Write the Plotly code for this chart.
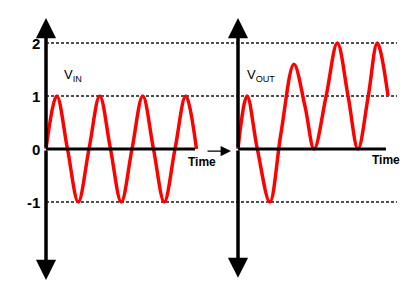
import plotly.graph_objects as go

# ---- data (time in periods, voltage in units) ----
vin_t = [0, 0.25, 0.5, 0.75, 1.0, 1.25, 1.5, 1.75, 2.0, 2.25, 2.5, 2.75, 3.0, 3.25, 3.5]
vin_v = [0, 1, 0, -1, 0, 1, 0, -1, 0, 1, 0, -1, 0, 1, 0]

vout_t = [0, 0.21, 0.45, 0.74, 1.0, 1.3, 1.56, 1.77, 2.05, 2.31, 2.56, 2.79, 3.03, 3.24, 3.49]
vout_v = [0, 1, 0, -1, 0.3, 1.6, 0.8, 0, 1.0, 2, 1.0, 0, 1.0, 2, 1.0]

level_vals = [2, 1, -1]
tick_vals = [2, 1, 0, -1]
tick_text = ["2", "1", "0", "-1"]

W, H = 417, 300
px_per_unit_y = 53.0
y0_px = 149.0
px_per_period = 43.0
left_origin_px = 46.0
right_origin_px = 238.0

yr = [(y0_px - H) / px_per_unit_y, y0_px / px_per_unit_y]
xr1 = [-left_origin_px / px_per_period, (W - left_origin_px) / px_per_period]
xr2 = [-right_origin_px / px_per_period, (W - right_origin_px) / px_per_period]

fig = go.Figure()

red = "#ff0000"
fig.add_trace(go.Scatter(x=vin_t, y=vin_v, mode="lines", xaxis="x", yaxis="y",
                         line=dict(color=red, width=3.5, shape="spline", smoothing=1.0),
                         hoverinfo="skip", showlegend=False))
fig.add_trace(go.Scatter(x=vout_t, y=vout_v, mode="lines", xaxis="x2", yaxis="y",
                         line=dict(color=red, width=3.5, shape="spline", smoothing=1.0),
                         hoverinfo="skip", showlegend=False))

shapes = []
# dashed reference levels
for lv in level_vals:
    shapes.append(dict(type="line", xref="x", yref="y", x0=0, x1=(397 - left_origin_px) / px_per_period,
                       y0=lv, y1=lv, line=dict(color="#505050", width=1.8, dash="3px,2px"), layer="below"))
# horizontal time axes
shapes.append(dict(type="line", xref="x", yref="y", x0=0, x1=3.465, y0=0, y1=0,
                   line=dict(color="black", width=3)))
shapes.append(dict(type="line", xref="x2", yref="y", x0=0, x1=3.44, y0=0, y1=0,
                   line=dict(color="black", width=3)))
fig.update_layout(shapes=shapes)

ann = []
# vertical axes with arrowheads on both ends
for xa, top, bot in [("x", 2.47, -2.47), ("x2", 2.47, -2.43)]:
    for tip in (top, bot):
        ann.append(dict(xref=xa, yref="y", axref=xa, ayref="y", x=0, y=tip, ax=0, ay=0,
                        showarrow=True, arrowhead=2, arrowsize=1.15, arrowwidth=3.5,
                        arrowcolor="black", text=""))
# small arrow between charts
ann.append(dict(xref="x", yref="y", axref="x", ayref="y", x=(231 - left_origin_px) / px_per_period,
                y=-0.04, ax=(206 - left_origin_px) / px_per_period, ay=-0.04,
                showarrow=True, arrowhead=2, arrowsize=1.6, arrowwidth=1.3,
                arrowcolor="black", text=""))
# tick labels
for v, t in zip(tick_vals, tick_text):
    ann.append(dict(xref="paper", yref="y", x=41.5 / W, y=v, xanchor="right", yanchor="middle",
                    showarrow=False, text="<b>%s</b>" % t,
                    font=dict(family="Liberation Sans, Arial", size=15, color="black")))
# Time labels
ann.append(dict(xref="x", yref="y", x=(202 - left_origin_px) / px_per_period, y=-0.25,
                showarrow=False, text="<b>Time</b>",
                font=dict(family="Liberation Sans, Arial", size=12, color="black")))
ann.append(dict(xref="x2", yref="y", x=(386 - right_origin_px) / px_per_period, y=-0.21,
                showarrow=False, text="<b>Time</b>",
                font=dict(family="Liberation Sans, Arial", size=12, color="black")))
# V labels
ann.append(dict(xref="x", yref="y", x=(62 - left_origin_px) / px_per_period, y=(y0_px - 75) / px_per_unit_y,
                xanchor="left", showarrow=False, text="V<sub>IN</sub>",
                font=dict(family="Liberation Sans, Arial", size=13, color="black")))
ann.append(dict(xref="x2", yref="y", x=(245 - right_origin_px) / px_per_period, y=(y0_px - 75) / px_per_unit_y,
                xanchor="left", showarrow=False, text="V<sub>OUT</sub>",
                font=dict(family="Liberation Sans, Arial", size=13, color="black")))

fig.update_layout(
    annotations=ann,
    width=W, height=H,
    margin=dict(l=0, r=0, t=0, b=0),
    paper_bgcolor="white", plot_bgcolor="white",
    xaxis=dict(range=xr1, visible=False, domain=[0, 1]),
    xaxis2=dict(range=xr2, visible=False, overlaying="x", domain=[0, 1]),
    yaxis=dict(range=yr, visible=False),
    showlegend=False,
)

fig.write_html("out.html")
